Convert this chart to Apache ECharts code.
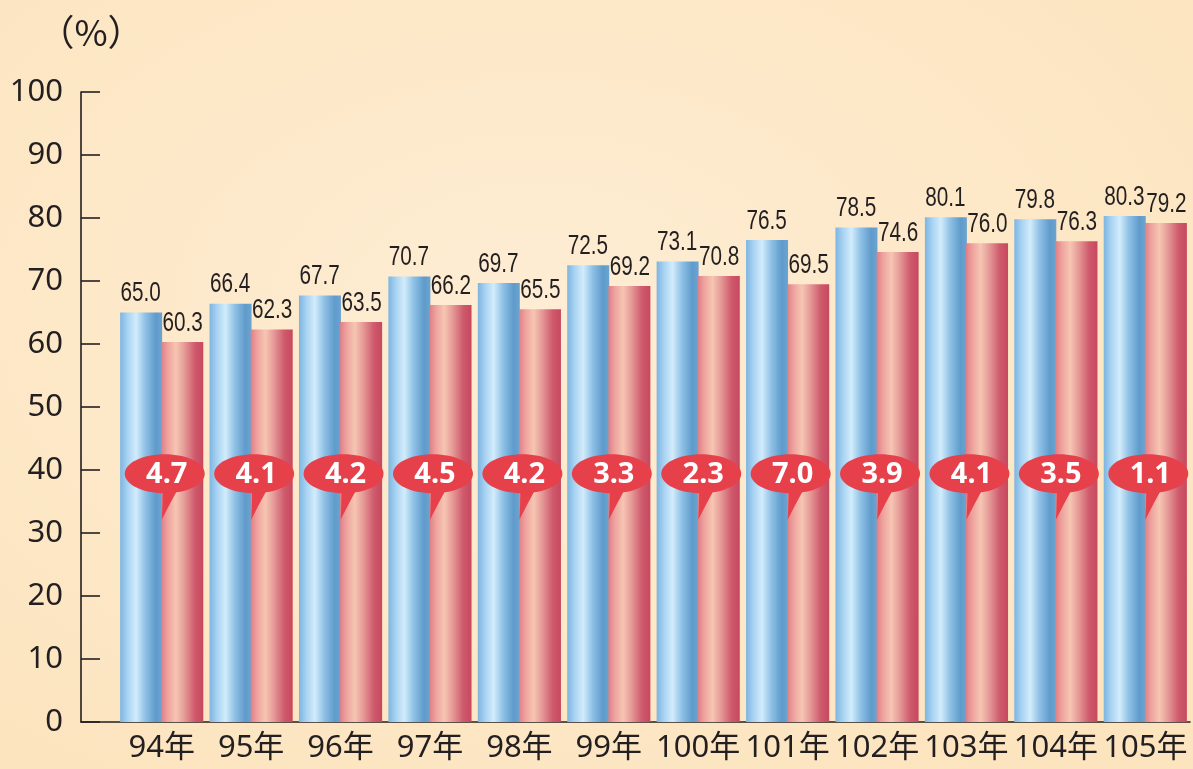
<!DOCTYPE html>
<html>
<head>
<meta charset="utf-8">
<script src="https://cdn.jsdelivr.net/npm/echarts@6/dist/echarts.min.js"></script>
<style>
html,body{margin:0;padding:0;width:1193px;height:769px;overflow:hidden;
background:radial-gradient(ellipse 70% 70% at 45% 40%, #fdedd4 0%, #fde8c7 60%, #fce4bf 100%);}
#c{width:1193px;height:769px;}
</style>
</head>
<body>
<div id="c"></div>
<script>
const categories = ['94年','95年','96年','97年','98年','99年','100年','101年','102年','103年','104年','105年'];
const blueValues = [65.0, 66.4, 67.7, 70.7, 69.7, 72.5, 73.1, 76.5, 78.5, 80.1, 79.8, 80.3];
const redValues  = [60.3, 62.3, 63.5, 66.2, 65.5, 69.2, 70.8, 69.5, 74.6, 76.0, 76.3, 79.2];
const gapValues  = [4.7, 4.1, 4.2, 4.5, 4.2, 3.3, 2.3, 7.0, 3.9, 4.1, 3.5, 1.1];
const yTicks = [0,10,20,30,40,50,60,70,80,90,100];
const bubbleLevel = 39.4;

const textColor = '#231f20';
const BAR_W = 42;

function grad(stops){
  return new echarts.graphic.LinearGradient(0,0,1,0, stops.map(s=>({offset:s[0], color:s[1]})));
}
const blueGrad = grad([[0,'#7db5e1'],[0.18,'#a9d3f2'],[0.38,'#d2ecfb'],[0.6,'#8fc1e6'],[0.85,'#5f9bcb'],[1,'#6aa4d2']]);
const redGrad  = grad([[0,'#df7f86'],[0.15,'#eea29e'],[0.35,'#f6c6b2'],[0.55,'#e59a98'],[0.8,'#cf5a6c'],[1,'#c7485f']]);

const chart = echarts.init(document.getElementById('c'), null, {renderer:'canvas'});

function narrowText(x, y, txt){
  return {type:'text', x:x, y:y, scaleX:0.74, scaleY:1,
    style:{text:txt, fill:textColor, font:"28px 'Liberation Sans',Arial,sans-serif",
      align:'center', verticalAlign:'bottom'}};
}

const option = {
  backgroundColor: 'transparent',
  animation: false,
  grid: [
    {left:117, right:3, top:92, bottom:47},
    {left:81, right:3, top:92, bottom:47}
  ],
  xAxis: [
    {
      type:'category', gridIndex:0, data:categories,
      axisLine:{show:false}, axisTick:{show:false},
      axisLabel:{interval:0, color:textColor, fontSize:31, margin:11,
        fontFamily:"'Noto Sans','Noto Sans CJK TC','Noto Sans CJK SC',sans-serif"}
    },
    {
      type:'value', gridIndex:1, min:0, max:1,
      axisLine:{show:true, lineStyle:{color:textColor, width:1.6}},
      axisTick:{show:false}, axisLabel:{show:false}, splitLine:{show:false}
    }
  ],
  yAxis: [
    {type:'value', gridIndex:0, min:0, max:100, interval:10, show:false},
    {
      type:'value', gridIndex:1, min:0, max:100, interval:10,
      name:'（%）', nameLocation:'end', nameGap:42,
      nameTextStyle:{color:textColor, fontSize:36, padding:[0,0,0,20],
        fontFamily:"'Noto Sans CJK TC','Noto Sans',sans-serif"},
      axisLine:{show:true, lineStyle:{color:textColor, width:1.6}},
      axisTick:{show:true, inside:true, length:19, lineStyle:{color:textColor, width:1.6}},
      axisLabel:{color:textColor, fontSize:31, margin:18,
        fontFamily:"'Noto Sans',sans-serif",
        formatter: v => yTicks.indexOf(v) >= 0 ? String(v) : ''},
      splitLine:{show:false}
    }
  ],
  series: [
    {
      type:'bar', xAxisIndex:0, yAxisIndex:0, data:blueValues,
      barWidth:BAR_W, barGap:'-2%',
      itemStyle:{color:blueGrad}
    },
    {
      type:'bar', xAxisIndex:0, yAxisIndex:0, data:redValues,
      barWidth:BAR_W, barGap:'-2%',
      itemStyle:{color:redGrad}
    },
    {
      type:'custom', xAxisIndex:0, yAxisIndex:0, z:9,
      data: categories.map((c,i)=>[i, blueValues[i], redValues[i]]),
      renderItem: function(params, api){
        const pb = api.coord([api.value(0), api.value(1)]);
        const pr = api.coord([api.value(0), api.value(2)]);
        return {type:'group', children:[
          narrowText(pb[0] - BAR_W/2, pb[1] - 5, api.value(1).toFixed(1)),
          narrowText(pr[0] + BAR_W/2, pr[1] - 5, api.value(2).toFixed(1))
        ]};
      }
    },
    {
      type:'custom', xAxisIndex:0, yAxisIndex:0,
      data: gapValues.map((g,i)=>[i, bubbleLevel, g]),
      z:10,
      renderItem: function(params, api){
        const p = api.coord([api.value(0), api.value(1)]);
        const cx = p[0] + 3, cy = p[1];
        const tx = p[0];
        return {
          type:'group',
          children:[
            {type:'path', shape:{pathData:
              'M'+(tx+1)+' '+(cy+12)+' Q'+(tx+1)+' '+(cy+32)+' '+tx+' '+(cy+46)+
              ' Q'+(tx+8)+' '+(cy+30)+' '+(tx+18)+' '+(cy+12)+' Z'},
              style:{fill:'#e6404b'}},
            {type:'ellipse', shape:{cx:cx, cy:cy, rx:40, ry:19.5}, style:{fill:'#e6404b'}},
            {type:'text', x:cx+2, y:cy+1, style:{text:api.value(2).toFixed(1), fill:'#ffffff',
              font:"bold 29px 'Noto Sans',sans-serif", align:'center', verticalAlign:'middle'}}
          ]
        };
      }
    }
  ]
};
chart.setOption(option);
</script>
</body>
</html>
